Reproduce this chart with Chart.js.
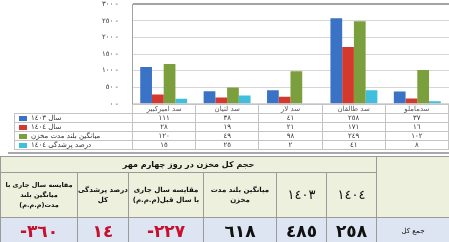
<!DOCTYPE html>
<html>
<head>
<meta charset="utf-8">
<script src="https://cdn.jsdelivr.net/npm/chart.js@4"></script>
<style>
  body { margin: 0; background: #fff; font-family: 'DejaVu Sans', sans-serif; }
  #wrap { position: relative; width: 449px; height: 242px; overflow: hidden; }
  #chart { position: absolute; left: 0; top: 0; }
  .dtable { position: absolute; left: 14px; top: 104px; width: 435px; border-collapse: collapse; table-layout: fixed; }
  .dtable td { border: 1px solid #c4c4c4; height: 8px; padding: 0; font-size: 7px; line-height: 8px; color: #333; text-align: center; white-space: nowrap; overflow: hidden; }
  .dtable tr.head td { color: #555; }
  .dtable td.blank { border: none; }
  .dtable td.leg { text-align: left; padding-left: 4px; }
  .sw { display: inline-block; width: 8px; height: 5px; margin-right: 4px; vertical-align: middle; }
  .sep { position: absolute; left: 8px; top: 152px; width: 441px; height: 2px; background: #a8a8a8; }
  .stable { position: absolute; left: 0; top: 156px; width: 449px; height: 86px; border-collapse: collapse; table-layout: fixed; }
  .stable td { border: 1px solid #9a9a9a; padding: 0; text-align: center; color: #111; font-weight: bold; white-space: nowrap; overflow: hidden; }
  .stable .hd { background: #eef0de; }
  .stable .title { height: 15px; font-size: 8px; }
  .stable .sub { height: 44px; font-size: 7px; line-height: 10px; }
  .stable .sub.small { font-size: 6.5px; }
  .stable .yr { font-size: 13px; font-weight: normal; }
  .stable .val { background: #dce5f1; height: 25px; font-size: 17px; }
  .stable .neg { color: #c8102e; }
  .stable .lbl { font-size: 7px; font-weight: normal; }
</style>
</head>
<body>
<div id="wrap">
  <canvas id="chart" width="449" height="108"></canvas>
  <table class="dtable" id="dataTable"></table>
  <div class="sep"></div>
  <table class="stable" id="sumTable"></table>
</div>
<script>
const categories = ['سد امیرکبیر', 'سد لتیان', 'سد لار', 'سد طالقان', 'سدماملو'];
const year1403 = [111, 38, 41, 258, 37];
const year1404 = [28, 19, 21, 171, 16];
const longTermAvg = [120, 49, 98, 249, 102];
const fillPct1404 = [15, 25, 2, 41, 8];
const yTicks = [0, 50, 100, 150, 200, 250, 300];

const seriesNames = ['سال 1403', 'سال 1404', 'میانگین بلند مدت مخزن', 'درصد پرشدگی 1404'];
const seriesColors = ['#3a72c6', '#d3392c', '#7b9f3c', '#3fbfdd'];

const summaryTitle = 'حجم کل مخزن در روز چهارم مهر';
const summaryHeaders = ['مقایسه سال جاری با<br>میانگین بلند<br>مدت(م.م.م)', 'درصد پرشدگی<br>کل', 'مقایسه سال جاری<br>با سال قبل(م.م.م)', 'میانگین بلند مدت<br>مخزن', '1403', '1404'];
const summaryValues = [-360, 14, -227, 618, 485, 258];
const summaryLabel = 'جمع کل';

// Arabic-Indic digits, as the reference font draws them
const fa = n => String(n).replace(/\d/g, d => '٠١٢٣٤٥٦٧٨٩'[d]);

const allSeries = [year1403, year1404, longTermAvg, fillPct1404];

new Chart(document.getElementById('chart'), {
  type: 'bar',
  data: {
    labels: categories,
    datasets: allSeries.map((data, i) => ({
      label: seriesNames[i],
      data: data,
      backgroundColor: seriesColors[i],
      borderWidth: 0,
      categoryPercentage: 0.74,
      barPercentage: 1
    }))
  },
  options: {
    responsive: false,
    animation: false,
    layout: { padding: 0 },
    plugins: { legend: { display: false }, tooltip: { enabled: false } },
    scales: {
      x: { display: false },
      y: {
        min: 0, max: 300,
        afterBuildTicks: s => { s.ticks = yTicks.map(v => ({ value: v })); },
        afterFit: s => { s.width = 132; },
        ticks: {
          padding: 0,
          color: '#333',
          font: { family: 'DejaVu Sans', size: 7 },
          callback: v => fa(v) + ' -'
        },
        grid: {
          drawTicks: true,
          tickLength: 14,
          tickColor: 'rgba(0,0,0,0)',
          color: c => c.tick && c.tick.value === 300 ? '#a4a4a4' : '#d6d6d6',
          lineWidth: c => c.tick && c.tick.value === 300 ? 2 : 1
        },
        border: { color: '#a4a4a4' }
      }
    }
  }
});

// data table under the chart
let rows = '<colgroup><col style="width:118px">' + categories.map(() => '<col>').join('') + '</colgroup>';
rows += '<tr class="head"><td class="blank"></td>' + categories.map(c => `<td dir="rtl">${c}</td>`).join('') + '</tr>';
allSeries.forEach((data, i) => {
  rows += `<tr><td class="leg"><span class="sw" style="background:${seriesColors[i]}"></span><span dir="rtl">${fa(seriesNames[i])}</span></td>`
    + data.map(v => `<td>${fa(v)}</td>`).join('') + '</tr>';
});
document.getElementById('dataTable').innerHTML = rows;

// summary table
const widths = [77, 51, 75, 73, 50, 50, 73];
let s = '<colgroup>' + widths.map(w => `<col style="width:${w}px">`).join('') + '</colgroup>';
s += `<tr><td class="hd title" colspan="6" dir="rtl">${summaryTitle}</td><td class="hd" rowspan="2"></td></tr>`;
s += '<tr>' + summaryHeaders.map((h, i) => `<td class="hd sub${i >= 4 ? ' yr' : ''}${i === 0 ? ' small' : ''}" dir="rtl">${fa(h)}</td>`).join('') + '</tr>';
s += '<tr>' + summaryValues.map((v, i) => {
  const red = i < 3;
  const txt = v < 0 ? '-' + fa(-v) : fa(v);
  return `<td class="val${red ? ' neg' : ''}" dir="ltr">${txt}</td>`;
}).join('') + `<td class="val lbl" dir="rtl">${summaryLabel}</td></tr>`;
document.getElementById('sumTable').innerHTML = s;
</script>
</body>
</html>
